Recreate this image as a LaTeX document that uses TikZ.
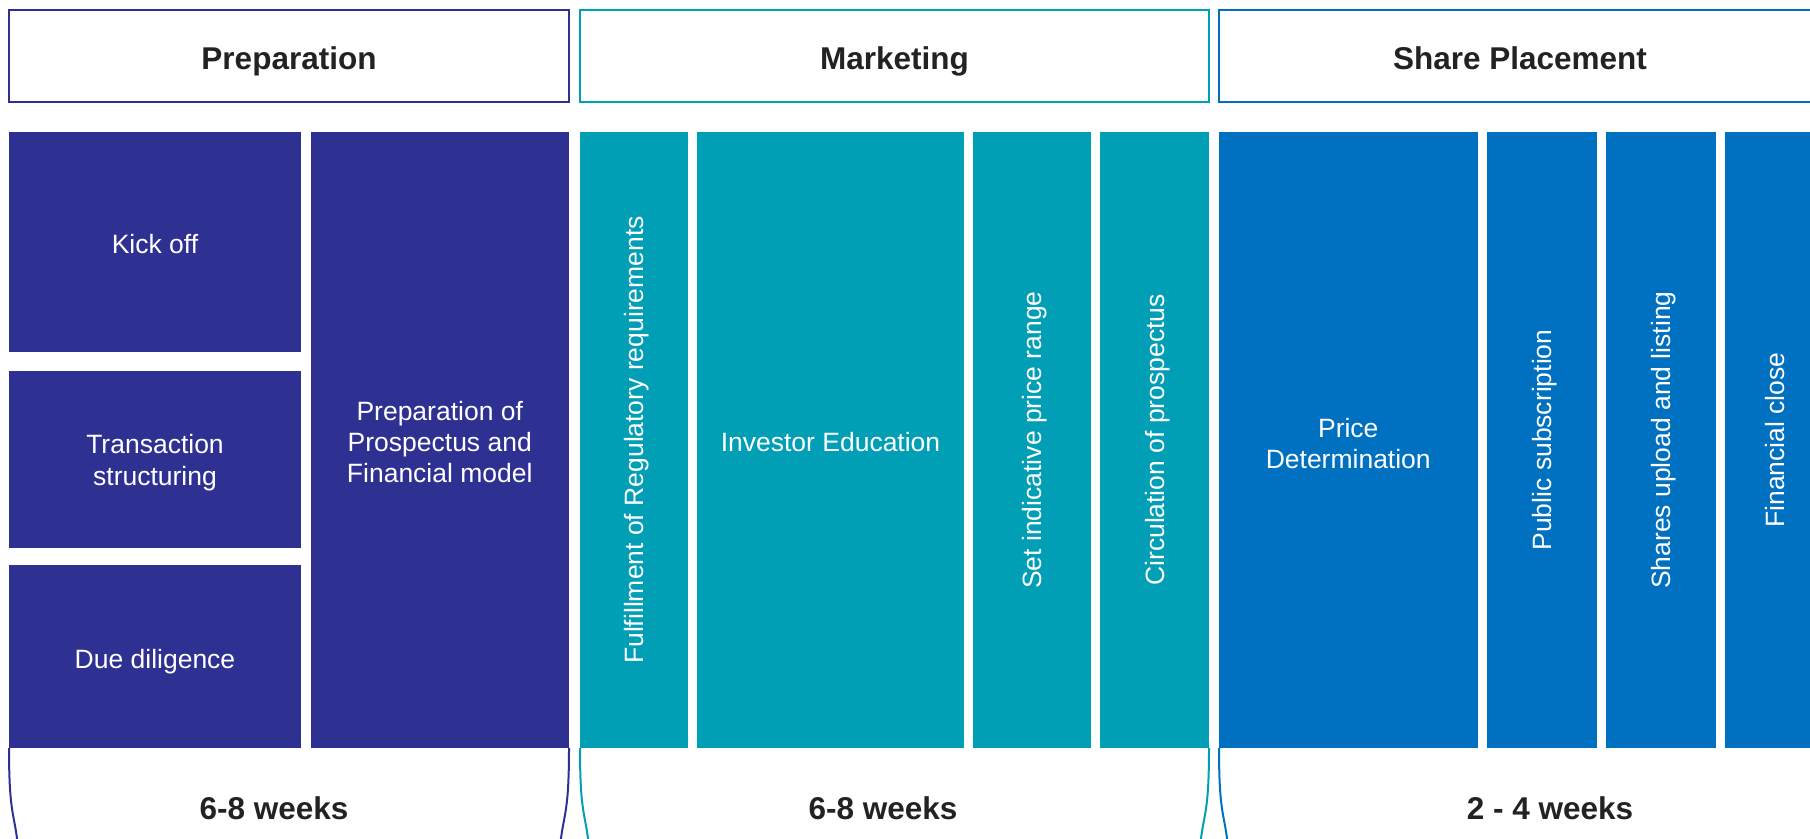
\documentclass[tikz,border=0pt]{standalone}
\usepackage{fontspec}
\setmainfont{Liberation Sans}
\definecolor{prepc}{HTML}{2E3192}
\definecolor{mktc}{HTML}{009FB6}
\definecolor{sharec}{HTML}{0070C0}
\definecolor{headtxt}{HTML}{222222}
\tikzset{
  head/.style={draw=#1, line width=1pt, fill=white, inner sep=0pt, outer sep=0pt,
    minimum height=46pt},
  htext/.style={text=headtxt, font=\fontsize{15.75}{19}\selectfont\bfseries,
    inner sep=0pt, text depth=0pt, yshift=-0.6pt},
  cbox/.style={fill=#1, inner sep=0pt, outer sep=0pt},
  ctext/.style={text=white, align=center, inner sep=0pt,
    font=\fontsize{13.25}{15.6}\selectfont, yshift=-1.6pt},
  stext/.style={text=white, inner sep=0pt, text depth=0pt,
    font=\fontsize{13.25}{15.6}\selectfont, yshift=-1.15pt},
  vtext/.style={text=white, inner sep=0pt, text depth=0pt, rotate=90,
    font=\fontsize{13.25}{15.6}\selectfont},
  brk/.style={draw=#1, line width=1pt},
  weeks/.style={text=headtxt, font=\fontsize{15.75}{19}\selectfont\bfseries, inner sep=0pt}
}
\begin{document}
\begin{tikzpicture}[x=0.5pt,y=-0.5pt]
\useasboundingbox (0,0) rectangle (1810,839);
\clip (0,0) rectangle (1810,839);
% headers
\node[head=prepc, minimum width=280pt] (hprep) at (289,56.5) {};
\node[head=mktc, minimum width=314.5pt] (hmkt) at (894.5,56.5) {};
\node[head=sharec, minimum width=305.5pt] (hshare) at (1524.5,56.5) {};
\node[htext] (tprep) at (hprep.center) {Preparation};
\node[htext] (tmkt) at (hmkt.center) {Marketing};
\node[htext] (tshare) at (1520,56.5) {Share Placement};
% preparation boxes
\node[cbox=prepc, minimum width=146pt, minimum height=110pt] (kick) at (155,242) {};
\node[stext] (tkick) at (kick.center) {Kick off};
\node[cbox=prepc, minimum width=146pt, minimum height=88.5pt] (trans) at (155,459.5) {};
\node[ctext] (ttrans) at (trans.center) {Transaction\\structuring};
\node[cbox=prepc, minimum width=146pt, minimum height=91.75pt] (due) at (155,656.25) {};
\node[stext] (tdue) at (due.center) {Due diligence};
\node[cbox=prepc, minimum width=129.25pt, minimum height=308pt] (prosp) at (439.75,440) {};
\node[ctext, yshift=0.6pt] (tprosp) at (prosp.center) {Preparation of\\Prospectus and\\Financial model};
% marketing boxes
\node[cbox=mktc, minimum width=54pt, minimum height=308pt] (fulfill) at (634,440) {};
\node[vtext] (tfulfill) at (fulfill.center) {Fulfillment of Regulatory requirements};
\node[cbox=mktc, minimum width=133.5pt, minimum height=308pt] (invest) at (830.5,440) {};
\node[stext] (tinvest) at (invest.center) {Investor Education};
\node[cbox=mktc, minimum width=59pt, minimum height=308pt] (setind) at (1032,440) {};
\node[vtext] (tsetind) at (setind.center) {Set indicative price range};
\node[cbox=mktc, minimum width=54.5pt, minimum height=308pt] (circ) at (1154.5,440) {};
\node[vtext] (tcirc) at (circ.center) {Circulation of prospectus};
% share placement boxes
\node[cbox=sharec, minimum width=129.25pt, minimum height=308pt] (price) at (1348.25,440) {};
\node[ctext] (tprice) at (price.center) {Price\\Determination};
\node[cbox=sharec, minimum width=54.75pt, minimum height=308pt] (public) at (1541.75,440) {};
\node[vtext] (tpublic) at (public.center) {Public subscription};
\node[cbox=sharec, minimum width=54.75pt, minimum height=308pt] (shares) at (1660.75,440) {};
\node[vtext] (tshares) at (shares.center) {Shares upload and listing};
\node[cbox=sharec, minimum width=54.5pt, minimum height=308pt] (fin) at (1779.5,440) {};
\node[vtext] (tfin) at (1775,440) {Financial close};
% bottom brackets
\draw[brk=prepc] (due.south west) .. controls +(0,70) and +(-3,-35) .. +(9,100);
\draw[brk=prepc] (prosp.south east) .. controls +(0,70) and +(3,-35) .. +(-9,100);
\draw[brk=mktc] (fulfill.south west) .. controls +(0,70) and +(-3,-35) .. +(9,100);
\draw[brk=mktc] (circ.south east) .. controls +(0,70) and +(3,-35) .. +(-9,100);
\draw[brk=sharec] (price.south west) .. controls +(0,70) and +(-3,-35) .. +(9,100);
% durations
\node[weeks] (wprep) at (274,808) {6-8 weeks};
\node[weeks] (wmkt) at (883,808) {6-8 weeks};
\node[weeks] (wshare) at (1550,808) {2 - 4 weeks};
\end{tikzpicture}
\end{document}
